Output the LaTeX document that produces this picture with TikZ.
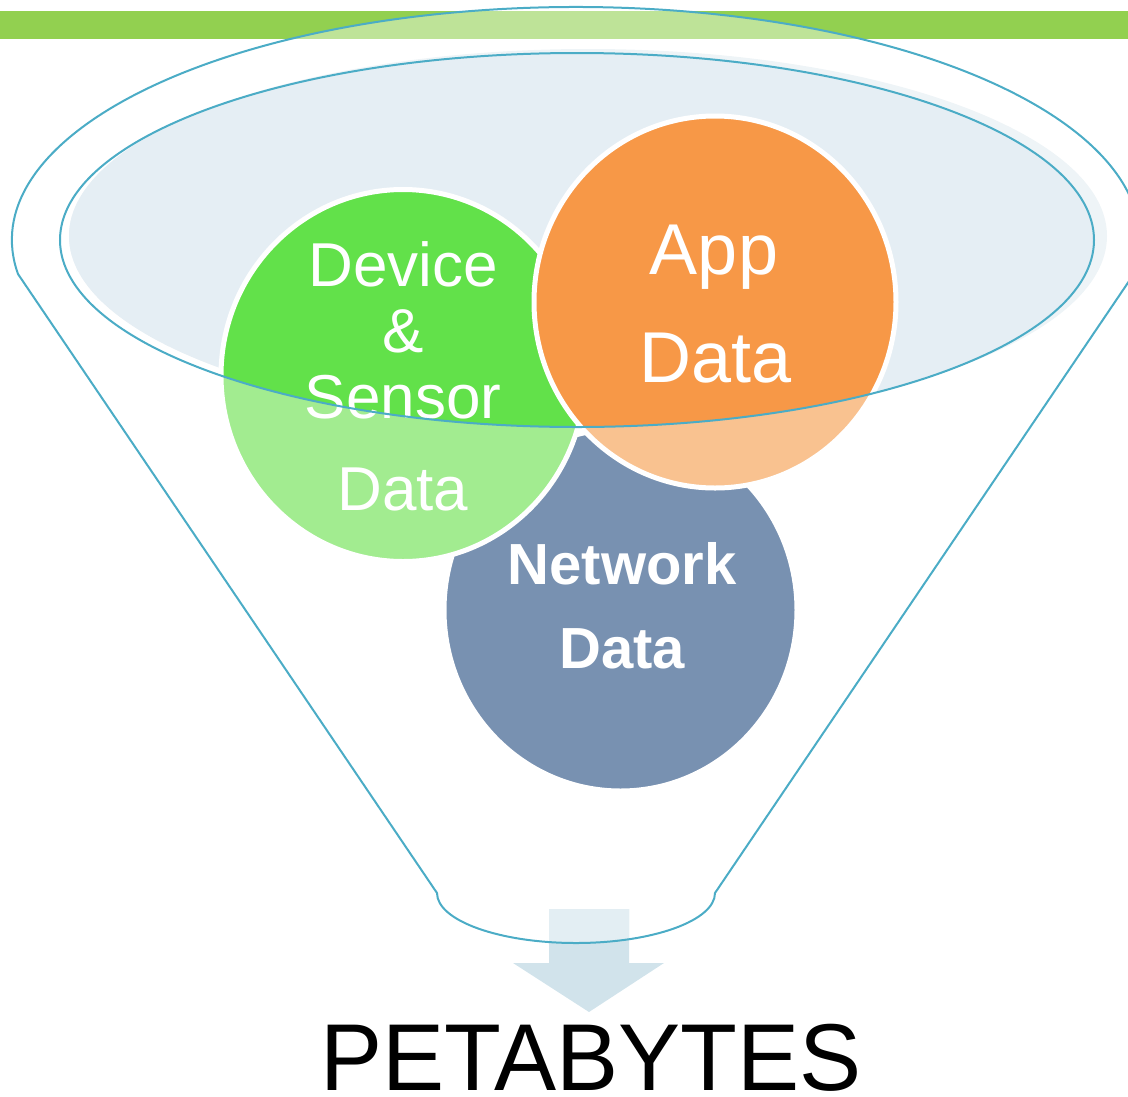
\documentclass[tikz,border=0pt]{standalone}
\usepackage{fontspec}
\setmainfont{Liberation Sans}
\definecolor{barGreen}{HTML}{92D050}
\definecolor{haloBlue}{HTML}{EEF4F7}
\definecolor{innerBlue}{HTML}{E5EEF4}
\definecolor{lineBlue}{HTML}{4BACC6}
\definecolor{greenC}{HTML}{62E14A}
\definecolor{greenL}{HTML}{A2EC90}
\definecolor{orangeC}{HTML}{F79847}
\definecolor{orangeL}{HTML}{F9C290}
\definecolor{blueC}{HTML}{7891B1}
\definecolor{arrowC}{HTML}{D1E3EB}
\definecolor{arrowL}{HTML}{E3EEF3}
\begin{document}
\begin{tikzpicture}[x=1pt,y=1pt,
  funnelline/.style={draw=lineBlue, line width=2},
  ring/.style={draw=white, line width=5},
  lbl/.style={text=white, inner sep=0, anchor=base},
  lblA/.style={lbl, font=\fontsize{62}{62}\selectfont},
  lblB/.style={lbl, font=\fontsize{72}{72}\selectfont},
  lblC/.style={lbl, font=\fontsize{58}{58}\selectfont\bfseries},
]
\useasboundingbox (0,0) rectangle (1128,-1096);
% green bar
\fill[barGreen] (0,-11) rectangle (1128,-39);
% outer funnel rim (translucent)
\fill[white, opacity=0.41] (577,-240) ellipse[x radius=564, y radius=233];
% inner ellipse fill
\fill[haloBlue] (588,-236) ellipse[x radius=519, y radius=187];
\begin{scope}
  \clip (588,-236) ellipse[x radius=519, y radius=187];
  \fill[innerBlue] (577,-240) ellipse[x radius=517, y radius=187];
\end{scope}
% network circle
\path[fill=blueC, ring] (620.5,-610) ellipse[x radius=176.5, y radius=181];
% device circle
\fill[greenL] (403,-375.5) ellipse[x radius=182, y radius=186];
\begin{scope}
  \clip (577,-240) ellipse[x radius=517, y radius=187];
  \fill[greenC] (403,-375.5) ellipse[x radius=182, y radius=186];
\end{scope}
\draw[ring] (403,-375.5) ellipse[x radius=182, y radius=186];
% app circle
\fill[orangeL] (715,-302) ellipse[x radius=181, y radius=186];
\begin{scope}
  \clip (577,-240) ellipse[x radius=517, y radius=187];
  \fill[orangeC] (715,-302) ellipse[x radius=181, y radius=186];
\end{scope}
\draw[ring] (715,-302) ellipse[x radius=181, y radius=186];
% arrow
\fill[arrowC] (549,-909) -- (629,-909) -- (629,-963) -- (664,-963) -- (589,-1012) -- (513,-963) -- (549,-963) -- cycle;
\begin{scope}
  \clip (18,-274) arc[start angle=188.4, end angle=-8.4, x radius=564, y radius=233]
     -- (715,-893) arc[start angle=0, end angle=-180, x radius=139, y radius=50] -- cycle;
  \fill[arrowL] (549,-909) -- (629,-909) -- (629,-963) -- (664,-963) -- (589,-1012) -- (513,-963) -- (549,-963) -- cycle;
\end{scope}
% labels
\node[lblA] (dev1) at (403,-286) {Device};
\node[lblA] (dev2) at (403,-352) {\&};
\node[lblA] (dev3) at (403,-418) {Sensor};
\node[lblA] (dev4) at (403,-510) {Data};
\node[lblB] (app1) at (714,-274) {App};
\node[lblB] (app2) at (716,-382) {Data};
\node[lblC] (net1) at (622,-584) {Network};
\node[lblC] (net2) at (622,-668) {Data};
% funnel outlines
\draw[funnelline] (18,-274) arc[start angle=188.4, end angle=-8.4, x radius=564, y radius=233]
   -- (715,-893) arc[start angle=0, end angle=-180, x radius=139, y radius=50] -- cycle;
\draw[funnelline] (577,-240) ellipse[x radius=517, y radius=187];
% bottom label
\node[inner sep=0, anchor=base, text depth=0pt, font=\fontsize{95}{95}\selectfont] (peta) at (591,-1090) {\scalebox{0.98}[1]{PETABYTES}};
\end{tikzpicture}
\end{document}
